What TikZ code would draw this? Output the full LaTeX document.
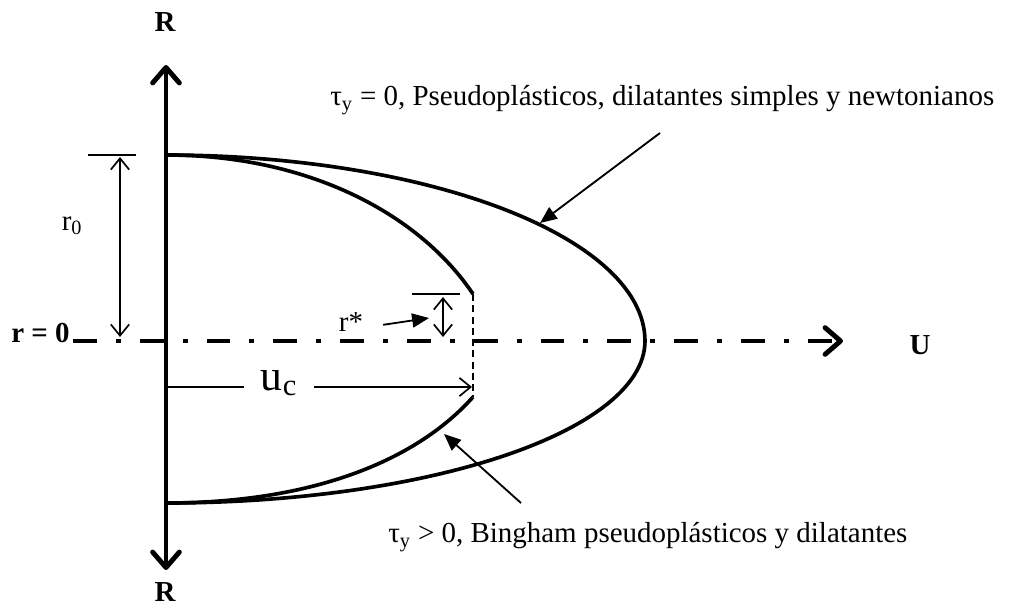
\documentclass[tikz,border=0pt]{standalone}
\usepackage{fontspec}
\setmainfont{Liberation Serif}
\usetikzlibrary{arrows.meta,positioning}
\tikzset{
  axisline/.style={line width=3.5pt},
  profile/.style={line width=2.6pt},
  dimline/.style={line width=1.2pt},
  txt/.style={inner sep=0pt, font=\fontsize{20.6}{24}\selectfont},
  bold/.style={txt, font=\fontsize{20.6}{24}\selectfont\bfseries},
}

\begin{document}
\begin{tikzpicture}[x=0.025cm, y=-0.025cm,
    bigbarb/.tip={Straight Barb[length=11pt, width=19pt, line cap=round, line join=round]},
    thinbarb/.tip={Straight Barb[length=8pt, width=13pt]},
    pointer/.style={line width=1.3pt, -{Triangle[length=12pt, width=10pt]}}]
  \useasboundingbox (0,0) rectangle (1012,607);
  \coordinate (O) at (166,341);
  \coordinate (Rup) at (166,65);
  \coordinate (Rdown) at (166,570);
  \coordinate (Uleft) at (73,341);
  \coordinate (Uright) at (843,341);
  \coordinate (top) at (166,155);
  \coordinate (bot) at (166,503);
  \coordinate (plugtop) at (473,294);
  \coordinate (plugbot) at (473,397);
  \node[bold] (Rn) at (165,22) {R};
  \node[bold] (Rs) at (165,592) {R};
  \node[bold, anchor=east] (rzero) at (70,333) {r = 0};
  \node[bold] (U) at (920,345) {U};
  \draw[axisline, bigbarb-bigbarb] (Rdown) -- (Rup);
  \draw[axisline, dash pattern=on 17pt off 13.5pt on 3.5pt off 13.5pt, -bigbarb] (Uleft) -- (Uright);
  % perfiles de velocidad
  \draw[profile, variable=\t] plot[domain=90:0, samples=60] ({166+479*cos(\t)}, {341-186*sin(\t)})
    -- plot[domain=0:-90, samples=60] ({166+479*cos(\t)}, {341-162*sin(\t)});
  \draw[profile] (top) .. controls (310,155) and (420,215) .. (plugtop);
  \draw[profile] (plugbot) .. controls (415,462) and (310,503) .. (bot);
  \draw[line width=1.2pt, dash pattern=on 5pt off 3pt] (plugtop) -- (plugbot);
  % cotas
  \coordinate (r0a) at (88,155);
  \coordinate (r0b) at (136,155);
  \coordinate (r0top) at (120,157);
  \coordinate (r0bot) at (120,337);
  \draw[dimline] (r0a) -- (r0b);
  \draw[dimline, thinbarb-thinbarb] (r0top) -- (r0bot);
  \node[txt] (r0) at (72,226) {r\textsubscript{0}};
  \coordinate (rsa) at (412,294);
  \coordinate (rsb) at (460,294);
  \coordinate (rstop) at (443,297);
  \coordinate (rsbot) at (443,337);
  \draw[dimline] (rsa) -- (rsb);
  \draw[dimline, thinbarb-thinbarb] (rstop) -- (rsbot);
  \node[txt] (rstar) at (351,322) {r*};
  \coordinate (rsarrow) at (429,318);
  \draw[pointer] (rstar.east) ++(14pt,-2pt) coordinate (rsfrom) (rsfrom) -- (rsarrow);
  \node[inner xsep=12pt, inner ysep=0pt, font=\fontsize{31}{34}\selectfont] (uc) at (279,383) {u\textsubscript{c}};
  \coordinate (ucleft) at (166,387);
  \coordinate (ucright) at (472,387);
  \draw[dimline] (ucleft) -- (ucleft -| uc.west);
  \draw[dimline, -thinbarb] (ucright -| uc.east) -- (ucright);
  % leyendas
  \node[txt, anchor=west] (newt) at (330,100) {τ\textsubscript{y} = 0, Pseudoplásticos, dilatantes simples y newtonianos};
  \node[txt, anchor=west] (bing) at (388,537) {τ\textsubscript{y} > 0, Bingham pseudoplásticos y dilatantes};
  \coordinate (newtfrom) at (660,133);
  \coordinate (newtto) at (540,223);
  \coordinate (bingfrom) at (521,503);
  \coordinate (bingto) at (444,434);
  \draw[pointer] (newtfrom) -- (newtto);
  \draw[pointer] (bingfrom) -- (bingto);
\end{tikzpicture}
\end{document}
